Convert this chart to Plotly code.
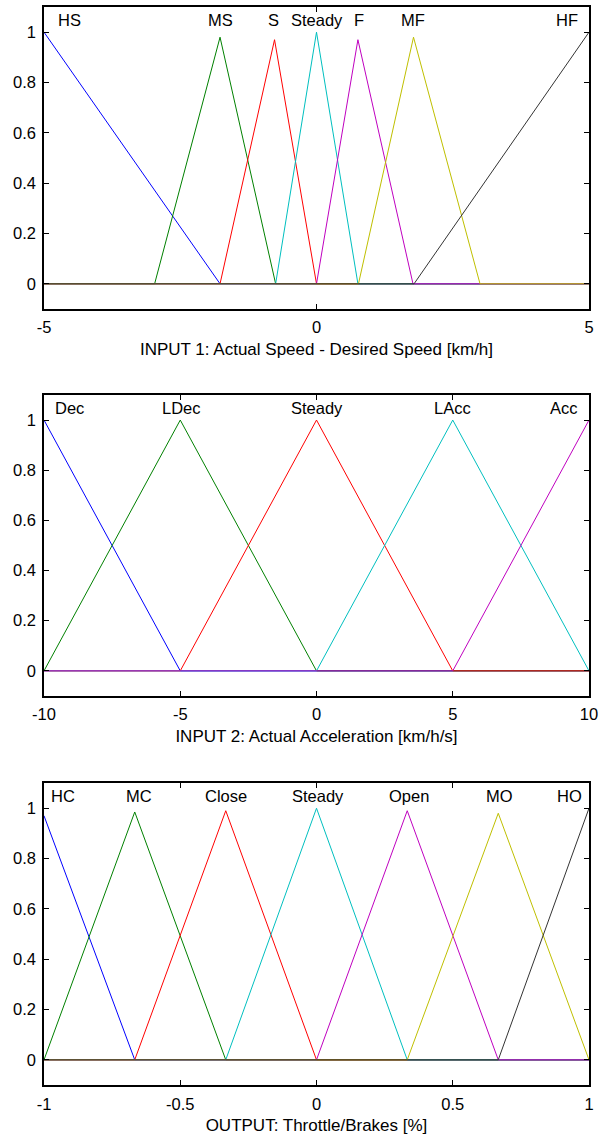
import plotly.graph_objects as go

# ---------------- data ----------------
# INPUT 1: speed error membership functions (vertex x, vertex y)
speed_names = ["HS", "MS", "S", "Steady", "F", "MF", "HF"]
speed_x = [
    [-5, -1.77, 5],
    [-5, -2.97, -1.77, -0.75, 5],
    [-5, -1.77, -0.77, 0, 5],
    [-5, -0.75, 0, 0.76, 5],
    [-5, 0, 0.76, 1.77, 5],
    [-5, 0.77, 1.78, 3.0, 5],
    [-5, 1.79, 5],
]
speed_y = [
    [1, 0, 0],
    [0, 0, 0.98, 0, 0],
    [0, 0, 0.97, 0, 0],
    [0, 0, 1, 0, 0],
    [0, 0, 0.97, 0, 0],
    [0, 0, 0.98, 0, 0],
    [0, 0, 1],
]
speed_label_x = [-4.54, -1.77, -0.78, 0.0, 0.78, 1.77, 4.6]

# INPUT 2: acceleration membership functions
acc_names = ["Dec", "LDec", "Steady", "LAcc", "Acc"]
acc_x = [
    [-10, -5, 10],
    [-10, -5, 0, 10],
    [-10, -5, 0, 5, 10],
    [-10, 0, 5, 10],
    [-10, 5, 10],
]
acc_y = [
    [1, 0, 0],
    [0, 1, 0, 0],
    [0, 0, 1, 0, 0],
    [0, 0, 1, 0],
    [0, 0, 1],
]
acc_label_x = [-9.06, -4.97, 0.0, 5.0, 9.08]

# OUTPUT: throttle/brakes membership functions
out_names = ["HC", "MC", "Close", "Steady", "Open", "MO", "HO"]
out_x = [
    [-1, -0.667, 1],
    [-1, -0.667, -0.333, 1],
    [-1, -0.667, -0.333, 0, 1],
    [-1, -0.333, 0, 0.333, 1],
    [-1, 0, 0.333, 0.667, 1],
    [-1, 0.333, 0.667, 1],
    [-1, 0.667, 1],
]
out_y = [
    [0.97, 0, 0],
    [0, 0.985, 0, 0],
    [0, 0, 0.99, 0, 0],
    [0, 0, 1, 0, 0],
    [0, 0, 0.99, 0, 0],
    [0, 0, 0.98, 0],
    [0, 0, 1],
]
out_label_x = [-0.93, -0.65, -0.332, 0.005, 0.338, 0.67, 0.93]

# axes ticks / titles
speed_ticks = [-5, 0, 5]
speed_ticktext = ["-5", "0", "5"]
acc_ticks = [-10, -5, 0, 5, 10]
acc_ticktext = ["-10", "-5", "0", "5", "10"]
out_ticks = [-1, -0.5, 0, 0.5, 1]
out_ticktext = ["-1", "-0.5", "0", "0.5", "1"]
y_ticks = [0, 0.2, 0.4, 0.6, 0.8, 1]
y_ticktext = ["0", "0.2", "0.4", "0.6", "0.8", "1"]
titles = [
    "INPUT 1: Actual Speed - Desired Speed [km/h]",
    "INPUT 2: Actual Acceleration [km/h/s]",
    "OUTPUT: Throttle/Brakes [%]",
]

colors7 = ["#0000FF", "#008000", "#FF0000", "#00BFBF", "#BF00BF", "#BFBF00", "#333333"]
colors5 = ["#0000FF", "#008000", "#FF0000", "#00BFBF", "#BF00BF"]

FONT = "Liberation Sans, Arial, Helvetica, sans-serif"
FS = 17

fig = go.Figure()
panels = [
    (speed_names, speed_x, speed_y, speed_label_x, colors7, "x", "y"),
    (acc_names, acc_x, acc_y, acc_label_x, colors5, "x2", "y2"),
    (out_names, out_x, out_y, out_label_x, colors7, "x3", "y3"),
]
annotations = []
for names, xs, ys, lx, cols, xa, ya in panels:
    for i, n in enumerate(names):
        fig.add_trace(go.Scatter(x=xs[i], y=ys[i], mode="lines", name=n,
                                 line=dict(color=cols[i], width=1),
                                 xaxis=xa, yaxis=ya, showlegend=False,
                                 hoverinfo="skip"))
        annotations.append(dict(x=lx[i], y=1.05, xref=xa, yref=ya, text=n,
                                showarrow=False, xanchor="center", yanchor="middle",
                                font=dict(family=FONT, size=FS - 0.5, color="black")))

domains = [[0.7199, 1.0], [0.3609, 0.6401], [0.0, 0.2801]]
ranges = [[-5, 5], [-10, 10], [-1, 1]]
tvals = [speed_ticks, acc_ticks, out_ticks]
ttext = [speed_ticktext, acc_ticktext, out_ticktext]

axis_common = dict(showline=True, linecolor="black", linewidth=1.5, mirror="ticks",
                   ticks="inside", ticklen=5, tickwidth=1, tickcolor="black",
                   showgrid=False, zeroline=False, automargin=False,
                   tickfont=dict(family=FONT, size=FS - 0.5, color="black"))

layout = dict(width=608, height=1135, margin=dict(l=44, r=19, t=7, b=50),
              plot_bgcolor="white", paper_bgcolor="white",
              annotations=annotations, showlegend=False)
for k in range(3):
    sx = "" if k == 0 else str(k + 1)
    layout["xaxis" + sx] = dict(domain=[0, 1], range=ranges[k], anchor="y" + sx,
                                tickvals=tvals[k], ticktext=ttext[k],
                                ticklabelstandoff=3,
                                title=dict(text=titles[k], standoff=8,
                                           font=dict(family=FONT, size=FS, color="black")),
                                **axis_common)
    layout["yaxis" + sx] = dict(domain=domains[k], range=[-0.1, 1.1], anchor="x" + sx,
                                tickvals=y_ticks, ticktext=y_ticktext,
                                ticklabelstandoff=3, **axis_common)
fig.update_layout(**layout)
fig.write_html("out.html")
